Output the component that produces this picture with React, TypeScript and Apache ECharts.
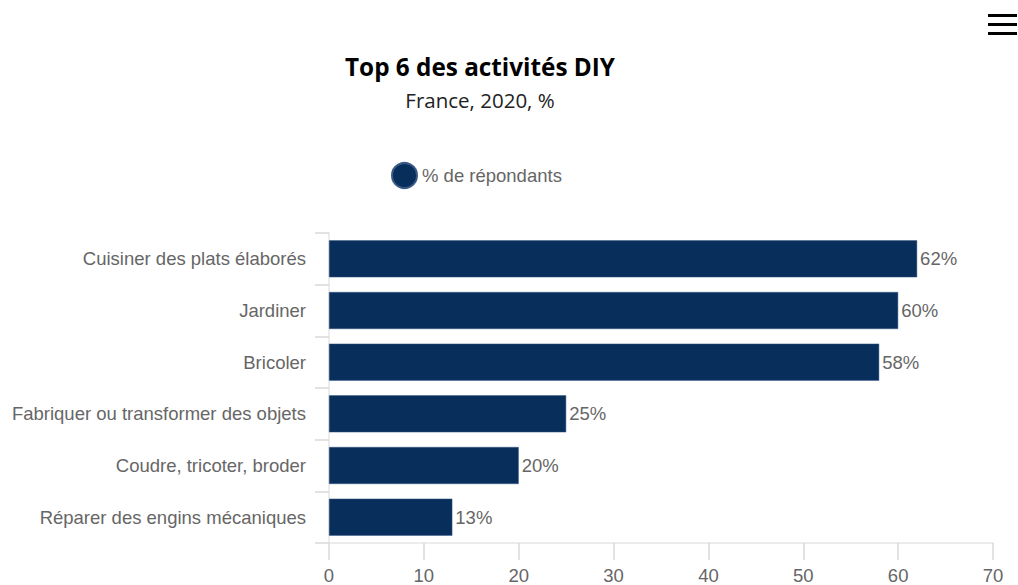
import React, { useEffect, useRef } from "react";
import * as echarts from "echarts";

const categories = [
  "Cuisiner des plats élaborés",
  "Jardiner",
  "Bricoler",
  "Fabriquer ou transformer des objets",
  "Coudre, tricoter, broder",
  "Réparer des engins mécaniques",
];
const values = [62, 60, 58, 25, 20, 13];
const seriesName = "% de répondants";
const titleText = "Top 6 des activités DIY";
const subtitleText = "France, 2020, %";

export default function App() {
  const ref = useRef<HTMLDivElement>(null);
  useEffect(() => {
    if (!ref.current) return;
    const chart = echarts.init(ref.current, null, { renderer: "svg" });
    const labelFont = "'Liberation Sans', Arial, sans-serif";
    const fs = 18.5;
    chart.setOption({
      animation: false,
      backgroundColor: "#ffffff",
      title: {
        text: titleText,
        subtext: subtitleText,
        left: 475,
        top: 49,
        textAlign: "center",
        itemGap: 11,
        textStyle: { fontFamily: "'Open Sans', sans-serif", fontWeight: "bold", fontSize: 24.3, color: "#000" },
        subtextStyle: { fontFamily: "'Open Sans', sans-serif", fontSize: 20.5, color: "#222" },
      },
      legend: {
        data: [seriesName],
        left: 386,
        top: 157,
        icon: "circle",
        itemWidth: 25,
        itemHeight: 25,
        itemGap: 6,
        textStyle: { fontFamily: labelFont, fontSize: fs, color: "#666" },
      },
      grid: {
        left: 329,
        right: 25,
        top: 233,
        bottom: 42,
        containLabel: false,
        outerBoundsMode: "none",
      },
      xAxis: {
        type: "value",
        min: 0,
        max: 70,
        interval: 10,
        splitLine: { show: false },
        axisLine: { show: true, lineStyle: { color: "#e6e6e6", width: 1.5 } },
        axisTick: { show: true, length: 17, lineStyle: { color: "#d8d8d8", width: 1.5 } },
        axisLabel: { fontFamily: labelFont, fontSize: fs, lineHeight: 19, color: "#666", margin: 23 },
      },
      yAxis: {
        type: "category",
        data: categories,
        inverse: true,
        axisLine: { show: true, lineStyle: { color: "#e6e6e6", width: 1.5 } },
        axisTick: { show: true, length: 14, lineStyle: { color: "#d8d8d8", width: 1.5 } },
        axisLabel: { fontFamily: labelFont, fontSize: fs, color: "#666", margin: 23 },
      },
      series: [
        {
          name: seriesName,
          type: "bar",
          data: values,
          barWidth: 37,
          itemStyle: { color: "#082e5c", borderColor: "#3a5a85", borderWidth: 0.5 },
          label: {
            show: true,
            position: "right",
            distance: 3,
            formatter: "{c}%",
            fontFamily: labelFont,
            fontSize: fs,
            color: "#666",
          },
        },
      ],
      graphic: [
        { type: "rect", shape: { x: 988, y: 14, width: 29, height: 3 }, style: { fill: "#000" } },
        { type: "rect", shape: { x: 988, y: 23, width: 29, height: 3 }, style: { fill: "#000" } },
        { type: "rect", shape: { x: 988, y: 32, width: 29, height: 3 }, style: { fill: "#000" } },
      ],
    });
    return () => chart.dispose();
  }, []);
  return (
    <div
      ref={ref}
      style={{ position: "fixed", left: 0, top: 0, width: 1018, height: 585 }}
    />
  );
}
